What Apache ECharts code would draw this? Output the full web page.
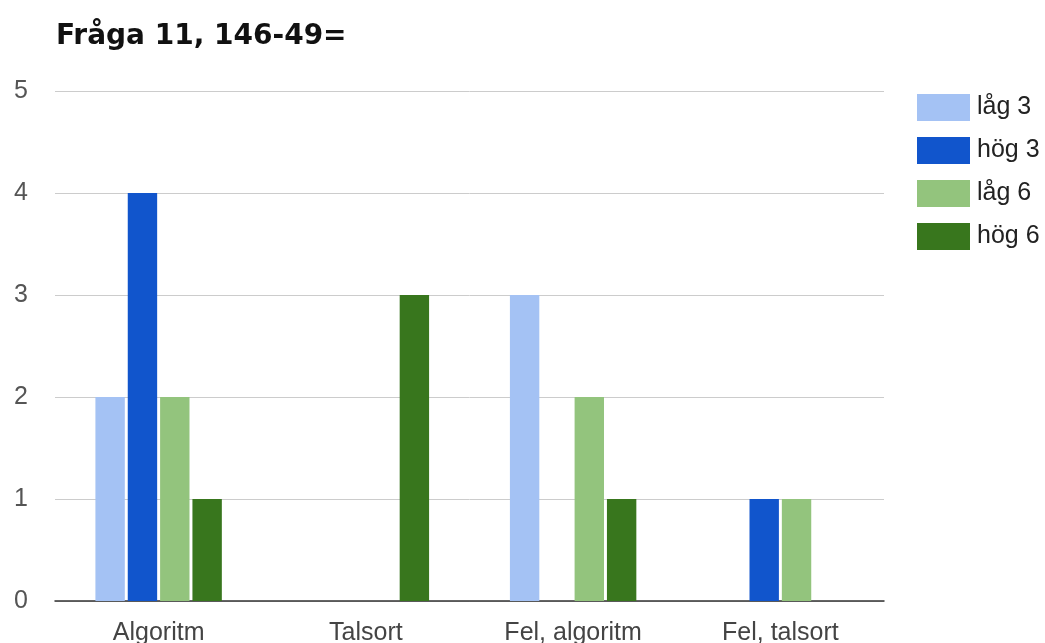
<!DOCTYPE html>
<html>
<head>
<meta charset="utf-8">
<script src="https://cdn.jsdelivr.net/npm/echarts@6/dist/echarts.min.js"></script>
<style>
  html, body { margin: 0; padding: 0; background: #fff; }
  #chart { width: 1045px; height: 643px; }
</style>
</head>
<body>
<div id="chart"></div>
<script>
// Answer categories for question 11
const categories = ['Algoritm', 'Talsort', 'Fel, algoritm', 'Fel, talsort'];

// Counts per group
const lag3 = [2, 0, 3, 0];
const hog3 = [4, 0, 0, 1];
const lag6 = [2, 0, 2, 1];
const hog6 = [1, 3, 1, 0];

const seriesNames = ['låg 3', 'hög 3', 'låg 6', 'hög 6'];
const seriesColors = ['#a4c2f4', '#1155cc', '#93c47d', '#38761d'];
const seriesData = [lag3, hog3, lag6, hog6];

const font = "'Liberation Sans', Arial, sans-serif";
const titleFont = "'DejaVu Sans', sans-serif";

const chart = echarts.init(document.getElementById('chart'), null, { renderer: 'canvas' });

chart.setOption({
  animation: false,
  backgroundColor: '#ffffff',
  title: {
    text: 'Fråga 11, 146-49=',
    left: 51,
    top: 18,
    textStyle: { fontFamily: titleFont, fontSize: 28, fontWeight: 'bold', color: '#111' }
  },
  legend: {
    orient: 'vertical',
    left: 912,
    top: 89,
    itemWidth: 53,
    itemHeight: 27,
    itemGap: 16,
    icon: 'rect',
    data: seriesNames,
    textStyle: { fontFamily: font, fontSize: 25, color: '#222', padding: [0, 0, 0, 2] }
  },
  grid: { left: 55, right: 161, top: 91, bottom: 42, containLabel: false, outerBoundsMode: 'none' },
  xAxis: {
    type: 'category',
    data: categories,
    axisTick: { show: false },
    axisLine: { lineStyle: { color: '#333', width: 1.5 } },
    axisLabel: { fontFamily: font, fontSize: 25, color: '#444', margin: 20 }
  },
  yAxis: {
    type: 'value',
    min: 0,
    max: 5,
    interval: 1,
    axisLine: { show: false },
    axisTick: { show: false },
    splitLine: { lineStyle: { color: '#cccccc', width: 1 } },
    axisLabel: { fontFamily: font, fontSize: 25, color: '#555', margin: 27 }
  },
  series: seriesNames.map((name, i) => ({
    name: name,
    type: 'bar',
    data: seriesData[i],
    barCategoryGap: '39%',
    barGap: '10%',
    itemStyle: { color: seriesColors[i] }
  }))
});
</script>
</body>
</html>
